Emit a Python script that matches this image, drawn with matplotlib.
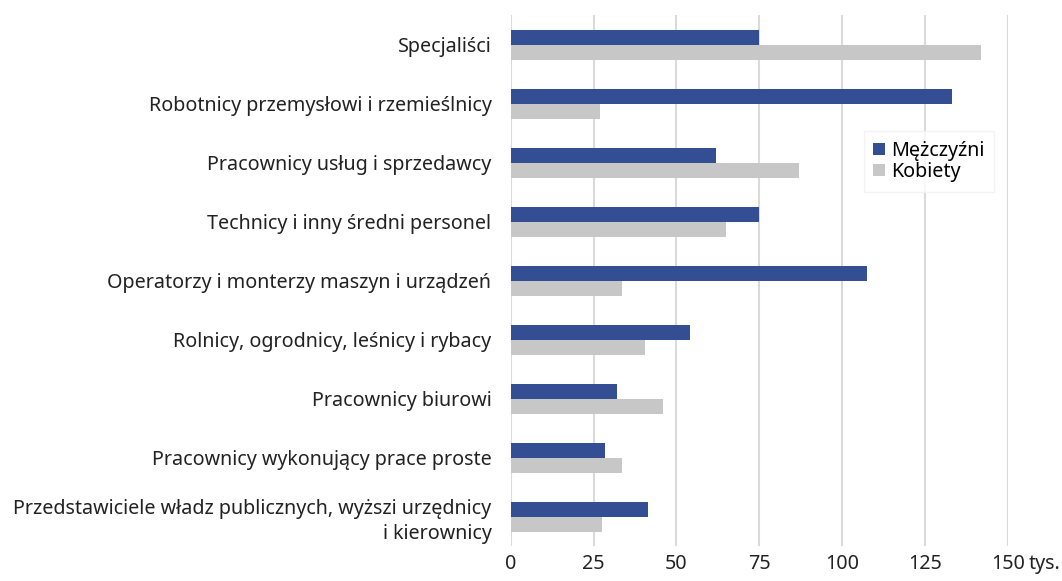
import matplotlib.pyplot as plt
import numpy as np

plt.rcParams['font.family'] = ['Noto Sans', 'DejaVu Sans']

# data (thousands of persons)
categories = [
    "Specjaliści",
    "Robotnicy przemysłowi i rzemieślnicy",
    "Pracownicy usług i sprzedawcy",
    "Technicy i inny średni personel",
    "Operatorzy i monterzy maszyn i urządzeń",
    "Rolnicy, ogrodnicy, leśnicy i rybacy",
    "Pracownicy biurowi",
    "Pracownicy wykonujący prace proste",
    "Przedstawiciele władz publicznych, wyższi urzędnicy\ni kierownicy",
]
men = [75, 133, 62, 75, 107.5, 54, 32, 28.5, 41.5]
women = [142, 27, 87, 65, 33.5, 40.5, 46, 33.5, 27.5]
xticks = [0, 25, 50, 75, 100, 125, 150]

blue = '#344e93'
grey = '#c6c7c6'

fig = plt.figure(figsize=(10.62, 5.81), dpi=100)
ax = fig.add_axes([0.481, 0.06, 0.468, 0.914])

y = np.arange(len(categories))
h = 0.255
ax.barh(y - h / 2, men, height=h, color=blue, label='Mężczyźni', zorder=3)
ax.barh(y + h / 2, women, height=h, color=grey, label='Kobiety', zorder=3)

ax.set_ylim(len(categories) - 0.5, -0.5)
ax.set_xlim(0, 150)
ax.set_yticks(y)
ax.set_yticklabels(categories, fontsize=14.2, color='#222222', ha='right',
                   linespacing=1.3)
ax.set_xticks(xticks)
ax.set_xticklabels([str(t) for t in xticks], fontsize=14.2, color='#222222')
ax.tick_params(axis='y', length=0, pad=14)
ax.tick_params(axis='x', length=0, pad=6)
ax.annotate('tys.', xy=(150, 0), xycoords=('data', 'axes fraction'),
            xytext=(15, -6), textcoords='offset points',
            fontsize=14.2, color='#222222', va='top', ha='left')

ax.grid(axis='x', color='#dadada', linewidth=1.5, zorder=0)
for s in ax.spines.values():
    s.set_visible(False)

leg = ax.legend(loc='upper left', bbox_to_anchor=(0.69, 0.80), fontsize=14.2,
                handlelength=0.6, handleheight=0.6, handletextpad=0.3,
                labelspacing=0.05, borderpad=0.5, frameon=True, fancybox=False)
leg.get_frame().set_edgecolor('#f0f0f0')
leg.get_frame().set_linewidth(1.0)

fig.savefig('out.png', dpi=100)
